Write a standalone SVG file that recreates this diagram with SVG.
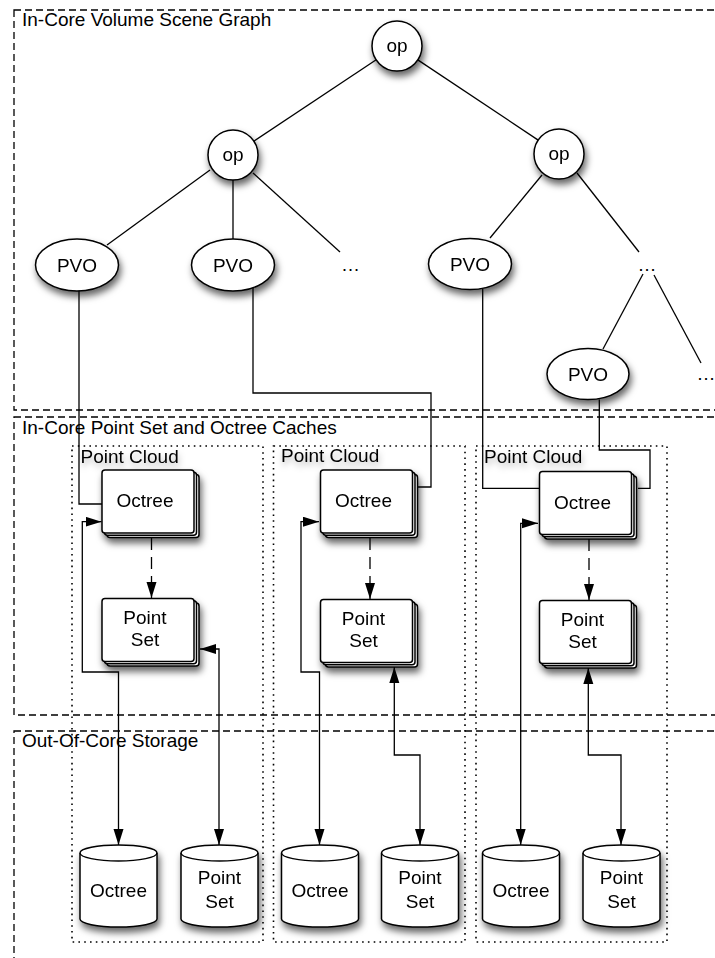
<svg xmlns="http://www.w3.org/2000/svg" width="715" height="958" viewBox="0 0 715 958">
  <defs>
    <style>
      text { font-family: "Liberation Sans", Arial, Helvetica, sans-serif; font-size: 19px; fill: #000; }
      .mid { text-anchor: middle; }
      .section { fill: none; stroke: #000; stroke-width: 1.3; stroke-dasharray: 7 4; }
      .cloud { fill: none; stroke: #000; stroke-width: 1.6; stroke-dasharray: 1.6 4.2; }
      .shape { fill: #fff; stroke: #000; stroke-width: 1.5; }
      .edge { fill: none; stroke: #000; stroke-width: 1.3; }
      .link { fill: none; stroke: #000; stroke-width: 1.3; }
      .both { marker-start: url(#head); marker-end: url(#head); }
      .ptr { marker-end: url(#head); }
      .dash { stroke-dasharray: 12 7; }
    </style>
    <filter id="shadow" x="-30%" y="-30%" width="170%" height="180%">
      <feDropShadow dx="2" dy="5" stdDeviation="3.5" flood-color="#000" flood-opacity="0.6"/>
    </filter>
    <filter id="soft" x="-20%" y="-60%" width="140%" height="260%">
      <feDropShadow dx="1" dy="4" stdDeviation="3" flood-color="#000" flood-opacity="0.3"/>
    </filter>
    <marker id="head" markerUnits="userSpaceOnUse" markerWidth="17" markerHeight="11" refX="16" refY="5" orient="auto-start-reverse">
      <path d="M0,0 L16,5 L0,10 Z" fill="#000"/>
    </marker>
    <!-- three stacked cards -->
    <g id="stack">
      <rect x="5" y="4.5" width="92" height="63" rx="3" class="shape"/>
      <rect x="2.5" y="2.2" width="92" height="63" rx="3" class="shape"/>
      <rect x="0" y="0" width="92" height="63" rx="3" class="shape"/>
    </g>
    <!-- storage cylinder, 77 wide -->
    <g id="disk">
      <path d="M0,8 A38.5,8 0 0 1 77,8 V74 A38.5,8 0 0 1 0,74 Z" class="shape"/>
      <path d="M0,8 A38.5,8 0 0 0 77,8" class="edge"/>
    </g>
  </defs>

  <!-- layers -->
  <g id="layers">
    <rect id="scene-graph" x="14" y="10" width="720" height="400" class="section"/>
    <text x="22" y="25.5">In-Core Volume Scene Graph</text>
    <rect id="caches" x="14" y="417" width="720" height="298" class="section"/>
    <text x="22" y="434">In-Core Point Set and Octree Caches</text>
    <rect id="storage" x="14" y="731" width="720" height="260" class="section"/>
    <text x="22" y="747">Out-Of-Core Storage</text>
  </g>

  <!-- point cloud frames -->
  <g id="clouds">
    <g id="cloud-1">
      <rect x="72" y="446" width="191" height="496" class="cloud"/>
      <text x="80.5" y="462.5" filter="url(#soft)">Point Cloud</text>
    </g>
    <g id="cloud-2">
      <rect x="273.5" y="446" width="191.5" height="496" class="cloud"/>
      <text x="281" y="462" filter="url(#soft)">Point Cloud</text>
    </g>
    <g id="cloud-3">
      <rect x="476" y="446" width="191" height="496" class="cloud"/>
      <text x="484" y="462.5" filter="url(#soft)">Point Cloud</text>
    </g>
  </g>

  <!-- connectors -->
  <g id="connectors">
    <!-- scene graph edges -->
    <line x1="376.2" y1="59.8" x2="253.8" y2="141.2" class="edge"/>
    <line x1="417.8" y1="59.9" x2="538.2" y2="140.1" class="edge"/>
    <line x1="210" y1="170" x2="107" y2="245" class="edge"/>
    <line x1="233" y1="180" x2="233" y2="239" class="edge"/>
    <line x1="253" y1="173" x2="340" y2="252" class="edge"/>
    <line x1="542" y1="175" x2="490" y2="238" class="edge"/>
    <line x1="577" y1="173" x2="639" y2="252" class="edge"/>
    <line x1="643" y1="274" x2="603" y2="349" class="edge"/>
    <line x1="654" y1="275" x2="701" y2="363" class="edge"/>

    <!-- volume objects to octree caches -->
    <path d="M79,291 V504 H102" class="link"/>
    <path d="M253,288 V393 H431 V487 H418" class="link"/>
    <path d="M482.7,289 V488.3 H539" class="link"/>
    <path d="M599.3,399.5 V450 H650 V488.3 H638" class="link"/>

    <!-- octree to point set -->
    <path d="M151.5,538 V598" class="link dash ptr"/>
    <path d="M370,538 V599" class="link dash ptr"/>
    <path d="M589,539 V600" class="link dash ptr"/>

    <!-- caches to storage -->
    <path d="M118.5,845 V672 H82.3 V521.7 H101.5" class="link both"/>
    <path d="M219,845 V649 H200" class="link both"/>
    <path d="M319.5,845 V672 H301 V521.7 H319" class="link both"/>
    <path d="M394.3,667 V755 H420 V845" class="link both"/>
    <path d="M520.7,845 V523.3 H538" class="link both"/>
    <path d="M588.3,668 V755 H621 V845" class="link both"/>
  </g>

  <!-- scene graph nodes -->
  <g id="op-root" filter="url(#shadow)">
    <circle cx="397" cy="46" r="25" class="shape"/>
    <text x="397" y="52" class="mid">op</text>
  </g>
  <g id="op-left" filter="url(#shadow)">
    <circle cx="233" cy="155" r="25" class="shape"/>
    <text x="233" y="161" class="mid">op</text>
  </g>
  <g id="op-right" filter="url(#shadow)">
    <circle cx="559" cy="154" r="25" class="shape"/>
    <text x="559" y="160" class="mid">op</text>
  </g>
  <g id="pvo-1" filter="url(#shadow)">
    <ellipse cx="77" cy="265" rx="41.5" ry="26" class="shape"/>
    <text x="77" y="271.5" class="mid">PVO</text>
  </g>
  <g id="pvo-2" filter="url(#shadow)">
    <ellipse cx="233" cy="265" rx="41.5" ry="26" class="shape"/>
    <text x="233" y="271.5" class="mid">PVO</text>
  </g>
  <g id="more-left">
    <text x="350.5" y="271" class="mid">…</text>
  </g>
  <g id="pvo-3" filter="url(#shadow)">
    <ellipse cx="470" cy="264" rx="41.5" ry="25.5" class="shape"/>
    <text x="470" y="270.5" class="mid">PVO</text>
  </g>
  <g id="more-right">
    <text x="647" y="271" class="mid">…</text>
  </g>
  <g id="pvo-4" filter="url(#shadow)">
    <ellipse cx="588" cy="374" rx="41" ry="25.5" class="shape"/>
    <text x="588" y="380.5" class="mid">PVO</text>
  </g>
  <g id="more-lower">
    <text x="706" y="380" class="mid">…</text>
  </g>

  <!-- cache nodes -->
  <g id="octree-cache-1" filter="url(#shadow)">
    <use href="#stack" x="102" y="470"/>
    <text x="145" y="507" class="mid">Octree</text>
  </g>
  <g id="pointset-cache-1" filter="url(#shadow)">
    <use href="#stack" x="102" y="598.5"/>
    <text x="145" y="624" class="mid">Point</text>
    <text x="145" y="646" class="mid">Set</text>
  </g>
  <g id="octree-cache-2" filter="url(#shadow)">
    <use href="#stack" x="320.5" y="470"/>
    <text x="363.5" y="507" class="mid">Octree</text>
  </g>
  <g id="pointset-cache-2" filter="url(#shadow)">
    <use href="#stack" x="320.5" y="599.5"/>
    <text x="363.5" y="625" class="mid">Point</text>
    <text x="363.5" y="647" class="mid">Set</text>
  </g>
  <g id="octree-cache-3" filter="url(#shadow)">
    <use href="#stack" x="539.5" y="471.5"/>
    <text x="582.5" y="508.5" class="mid">Octree</text>
  </g>
  <g id="pointset-cache-3" filter="url(#shadow)">
    <use href="#stack" x="539.5" y="600.5"/>
    <text x="582.5" y="626" class="mid">Point</text>
    <text x="582.5" y="648" class="mid">Set</text>
  </g>

  <!-- storage nodes -->
  <g id="octree-store-1" filter="url(#shadow)">
    <use href="#disk" x="80" y="845"/>
    <text x="118.5" y="897" class="mid">Octree</text>
  </g>
  <g id="pointset-store-1" filter="url(#shadow)">
    <use href="#disk" x="181" y="845"/>
    <text x="219.5" y="884" class="mid">Point</text>
    <text x="219.5" y="907.5" class="mid">Set</text>
  </g>
  <g id="octree-store-2" filter="url(#shadow)">
    <use href="#disk" x="281.5" y="845"/>
    <text x="320" y="897" class="mid">Octree</text>
  </g>
  <g id="pointset-store-2" filter="url(#shadow)">
    <use href="#disk" x="381.5" y="845"/>
    <text x="420" y="884" class="mid">Point</text>
    <text x="420" y="907.5" class="mid">Set</text>
  </g>
  <g id="octree-store-3" filter="url(#shadow)">
    <use href="#disk" x="482.5" y="845"/>
    <text x="521" y="897" class="mid">Octree</text>
  </g>
  <g id="pointset-store-3" filter="url(#shadow)">
    <use href="#disk" x="583" y="845"/>
    <text x="621.5" y="884" class="mid">Point</text>
    <text x="621.5" y="907.5" class="mid">Set</text>
  </g>
</svg>
